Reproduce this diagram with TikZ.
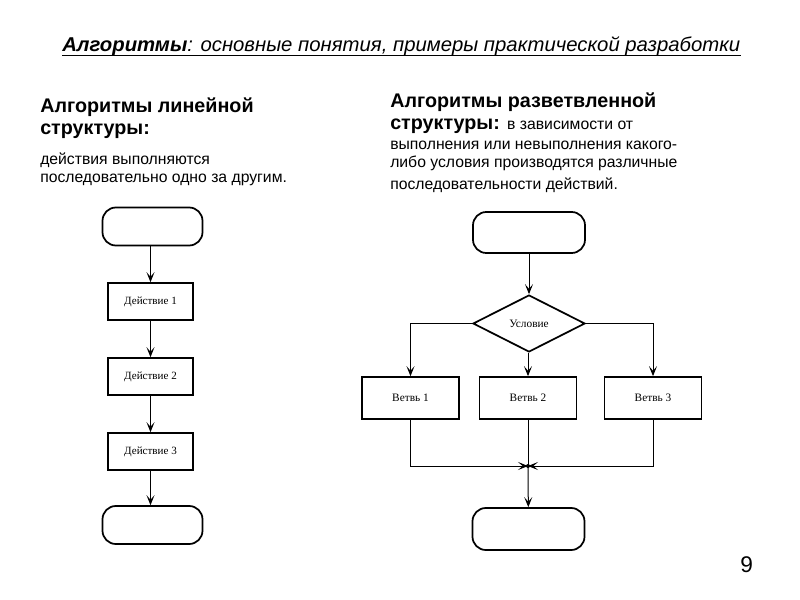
\documentclass[tikz,border=0pt]{standalone}
\usepackage{fontspec}
\setmainfont{Liberation Sans}
\newfontfamily\flowfont{Liberation Serif}
\usetikzlibrary{shapes.geometric,arrows.meta}
\begin{document}
\begin{tikzpicture}[x=0.75pt,y=-0.75pt,
  txt/.style={anchor=base west,inner sep=0pt},
  hfont/.style={font=\bfseries\fontsize{14.8}{16}\selectfont},
  bfont/.style={font=\fontsize{11.8}{14}\selectfont},
  shp/.style={draw,line width=1.3pt,inner sep=0pt,font=\flowfont\fontsize{8.5}{10}\selectfont},
  term/.style={shp,rounded corners=10pt,minimum width=75pt,minimum height=28.5pt},
  act/.style={shp,minimum width=63.75pt,minimum height=27.75pt,font=\flowfont\fontsize{8.3}{9}\selectfont},
  branch/.style={shp,minimum width=72.75pt,minimum height=31.5pt},
  cond/.style={shp,diamond,minimum width=84pt,minimum height=42.75pt},
  conn/.style={line width=0.75pt},
  arr/.style={conn,-{Stealth[length=7.5pt,width=6pt,inset=3.5pt]}}
]
\useasboundingbox[fill=white] (0,0) rectangle (800,600);

% title
\node[txt] (title) at (62,51) {\resizebox{508.5pt}{\height}{\fontsize{15}{16}\selectfont\itshape\textbf{Алгоритмы}: основные понятия, примеры практической разработки}};
\draw[line width=1.2pt] (title.base west) ++(0,4.5) coordinate (ul1) -- (ul1 -| title.east);

% left texts
\node[txt,hfont] (lh1) at (40,112) {Алгоритмы линейной};
\node[txt,hfont] (lh2) at (40,134) {структуры:};
\node[txt,bfont] (lt1) at (40,164) {действия выполняются};
\node[txt,bfont] (lt2) at (40,182) {последовательно одно за другим.};

% right texts
\node[txt,hfont] (rh1) at (390,107) {Алгоритмы разветвленной};
\node[txt,hfont] (rh2) at (390,129) {структуры: {\mdseries\fontsize{11.8}{14}\selectfont в зависимости от}};
\node[txt,bfont] (rt1) at (390,149) {выполнения или невыполнения какого-};
\node[txt,bfont] (rt2) at (390,167) {либо условия производятся различные};
\node[txt,bfont] (rt3) at (390,189) {последовательности действий.};

% left flowchart
\node[term] (t1) at (152.5,226.5) {};
\node[act] (a1) at (150.5,301.5) {Действие 1};
\node[act] (a2) at (150.5,376.5) {Действие 2};
\node[act] (a3) at (150.5,451.5) {Действие 3};
\node[term] (t2) at (152.5,525) {};
\draw[arr] (t1.south -| a1) -- (a1);
\draw[arr] (a1) -- (a2);
\draw[arr] (a2) -- (a3);
\draw[arr] (a3) -- (t2.north -| a3);

% right flowchart
\node[term,minimum width=84pt,minimum height=30.75pt] (rs) at (529,232.5) {};
\node[cond] (c) at (529,323.5) {Условие};
\node[branch] (b1) at (410.5,398) {Ветвь 1};
\node[branch] (b2) at (528,398) {Ветвь 2};
\node[branch] (b3) at (653,398) {Ветвь 3};
\coordinate (j) at (528,466);
\node[term,minimum width=84pt,minimum height=31.5pt] (re) at (528.5,529) {};
\draw[arr] (rs.south -| c) -- (c);
\draw[arr] (c.west) -| (b1);
\draw[arr] (c.east) -| (b3);
\draw[arr] (c.south -| b2) -- (b2);
\draw[arr] (b1) |- (j);
\draw[arr] (b3) |- (j);
\draw[conn] (b2) -- (j);
\fill (j) circle (2);
\draw[arr] (j) -- (re);

% page number
\node[txt,font=\fontsize{17}{19}\selectfont] (pg) at (740,572) {9};
\end{tikzpicture}
\end{document}
